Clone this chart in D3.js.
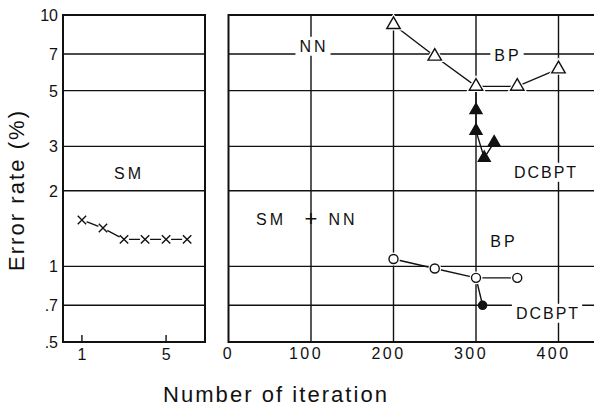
<!DOCTYPE html>
<html lang="en">
<head>
    <meta charset="UTF-8">
    <title>Error rate vs Number of iteration</title>
    <script src="https://d3js.org/d3.v7.min.js"></script>
    <style>
        body {
            margin: 0;
            background-color: white;
        }

        svg {
            display: block;
            font-family: "Liberation Sans", Arial, sans-serif;
        }

        .frame {
            fill: none;
            stroke: #111;
            stroke-width: 2;
        }

        .grid {
            stroke: #111;
            stroke-width: 1.4;
        }

        .tick-label {
            font-size: 16px;
            fill: #111;
        }

        .series {
            fill: none;
            stroke: #111;
            stroke-width: 1.4;
        }

        .note {
            font-size: 16px;
            fill: #111;
        }
    </style>
</head>
<body>
    <svg></svg>

    <script>
        // y axis (log scale, shared by both panels)
        const yTicks = [10, 7, 5, 3, 2, 1, 0.7, 0.5];
        const yTickLabels = ["10", "7", "5", "3", "2", "1", ".7", ".5"];

        // left panel: SM
        const smTicks = [1, 5];
        const smIter = [1, 2, 3, 4, 5, 6];
        const smError = [1.53, 1.42, 1.28, 1.28, 1.28, 1.28];

        // right panel ticks
        const nnTicks = [0, 100, 200, 300, 400];

        // NN, BP (open triangles)
        const nnBpIter = [200, 250, 300, 350, 400];
        const nnBpError = [9.15, 6.85, 5.2, 5.2, 6.1];
        // NN, DCBPT (filled triangles), starts from BP at 300
        const nnDcIter = [300, 300, 310, 322];
        const nnDcError = [4.18, 3.46, 2.7, 3.11];

        // SM + NN, BP (open circles)
        const smnnBpIter = [200, 250, 300, 350];
        const smnnBpError = [1.07, 0.98, 0.9, 0.9];
        // SM + NN, DCBPT (filled circle)
        const smnnDcIter = [308];
        const smnnDcError = [0.7];

        const width = 594, height = 407;

        const svg = d3.select("svg")
            .attr("width", width)
            .attr("height", height);

        svg.append("rect")
            .attr("width", width)
            .attr("height", height)
            .attr("fill", "white");

        const y = d3.scaleLog().domain([0.5, 10]).range([342, 15]);
        const xL = d3.scaleLinear().domain([0.1, 6.85]).range([63, 205]);
        const xR = d3.scaleLinear().domain([0, 450]).range([228.5, 599.75]);

        const gridY = yTicks.filter(d => d !== 10 && d !== 0.5);

        // ---- left panel ----
        const left = svg.append("g");
        left.selectAll(".hgrid")
            .data(gridY)
            .enter().append("line")
            .attr("class", "grid")
            .attr("x1", xL.range()[0]).attr("x2", xL.range()[1])
            .attr("y1", d => y(d)).attr("y2", d => y(d));

        left.append("rect")
            .attr("class", "frame")
            .attr("x", xL.range()[0])
            .attr("y", y(10))
            .attr("width", xL.range()[1] - xL.range()[0])
            .attr("height", y(0.5) - y(10));

        // small inner ticks on the bottom axis
        left.selectAll(".xtick")
            .data(smTicks)
            .enter().append("line")
            .attr("class", "grid")
            .attr("x1", d => xL(d)).attr("x2", d => xL(d))
            .attr("y1", y(0.5)).attr("y2", y(0.5) - 7);

        left.selectAll(".xlabel")
            .data(smTicks)
            .enter().append("text")
            .attr("class", "tick-label")
            .attr("x", d => xL(d))
            .attr("y", 360)
            .attr("text-anchor", "middle")
            .text(d => d);

        // y tick labels
        svg.selectAll(".ylabel")
            .data(yTicks)
            .enter().append("text")
            .attr("class", "tick-label")
            .attr("x", 58)
            .attr("y", d => y(d))
            .attr("dy", "0.38em")
            .attr("text-anchor", "end")
            .text((d, i) => yTickLabels[i]);

        // ---- right panel ----
        const right = svg.append("g");
        right.selectAll(".hgrid")
            .data(gridY)
            .enter().append("line")
            .attr("class", "grid")
            .attr("x1", xR(0)).attr("x2", width)
            .attr("y1", d => y(d)).attr("y2", d => y(d));

        right.selectAll(".vgrid")
            .data(nnTicks.filter(d => d > 0))
            .enter().append("line")
            .attr("class", "grid")
            .attr("x1", d => xR(d)).attr("x2", d => xR(d))
            .attr("y1", y(10)).attr("y2", y(0.5));

        right.append("path")
            .attr("class", "frame")
            .attr("d", `M${width},${y(10)}H${xR(0)}V${y(0.5)}H${width}`);

        right.selectAll(".xlabel")
            .data(nnTicks)
            .enter().append("text")
            .attr("class", "tick-label")
            .attr("x", d => xR(d) + (d === 0 ? 0 : -5))
            .attr("y", 359)
            .attr("text-anchor", "middle")
            .style("letter-spacing", "2.5px")
            .text(d => d);

        // ---- labels inside the plots ----
        function note(x, yy, txt, spacing, bg, size) {
            const t = svg.append("text")
                .attr("class", "note")
                .attr("x", x)
                .attr("y", yy)
                .attr("dy", "0.36em")
                .attr("text-anchor", "middle")
                .style("letter-spacing", spacing + "px")
                .text(txt);
            if (size) t.style("font-size", size + "px");
            if (bg) {
                const b = t.node().getBBox();
                svg.insert("rect", () => t.node())
                    .attr("x", b.x - 4).attr("y", b.y - 1)
                    .attr("width", b.width + 6).attr("height", b.height + 2)
                    .attr("fill", "white");
            }
        }

        note(129, 173, "SM", 3, false);
        note(314, 46, "NN", 3, true);
        note(508, 55, "BP", 3, true);
        note(546, 172, "DCBPT", 2, true);
        note(271, 219, "SM", 3, false);
        note(xR(100), 218, "+", 0, false, 22);
        note(343, 219, "NN", 3, false);
        note(504, 241, "BP", 3, false);
        note(548, 313, "DCBPT", 2, true);

        // ---- data ----
        const lineL = d3.line().x(d => xL(d[0])).y(d => y(d[1]));
        const lineR = d3.line().x(d => xR(d[0])).y(d => y(d[1]));

        const sm = smIter.map((d, i) => [d, smError[i]]);
        const nnBp = nnBpIter.map((d, i) => [d, nnBpError[i]]);
        const nnDc = nnDcIter.map((d, i) => [d, nnDcError[i]]);
        const smnnBp = smnnBpIter.map((d, i) => [d, smnnBpError[i]]);
        const smnnDc = smnnDcIter.map((d, i) => [d, smnnDcError[i]]);

        svg.append("path").attr("class", "series").attr("d", lineL(sm));
        svg.append("path").attr("class", "series").attr("d", lineR(nnBp));
        svg.append("path").attr("class", "series").attr("d", lineR([nnBp[2]].concat(nnDc)));
        svg.append("path").attr("class", "series").attr("d", lineR(smnnBp));
        svg.append("path").attr("class", "series").attr("d", lineR([smnnBp[2]].concat(smnnDc)));

        // white halo first, so the joining lines stop short of each marker
        function markers(data, xs, type, size, filled, halo) {
            svg.selectAll(null)
                .data(data)
                .enter().append("path")
                .attr("transform", d => `translate(${xs(d[0])},${y(d[1])})`)
                .attr("d", d3.symbol().type(halo.type || type).size(halo.size))
                .attr("fill", "white");
            svg.selectAll(null)
                .data(data)
                .enter().append("path")
                .attr("transform", d => `translate(${xs(d[0])},${y(d[1])})`)
                .attr("d", d3.symbol().type(type).size(size))
                .attr("fill", filled ? "#111" : "white")
                .attr("stroke", "#111")
                .attr("stroke-width", 1.4);
        }

        markers(sm, xL, d3.symbolX, 48, false, { type: d3.symbolCircle, size: 80 });
        markers(nnBp, xR, d3.symbolTriangle, 78, false, { size: 170 });
        markers(nnDc, xR, d3.symbolTriangle, 62, true, { size: 62 });
        markers(smnnBp, xR, d3.symbolCircle, 64, false, { size: 130 });
        markers(smnnDc, xR, d3.symbolCircle, 52, true, { size: 52 });

        // ---- axis titles ----
        svg.append("text")
            .attr("x", 163)
            .attr("y", 402)
            .attr("textLength", 224)
            .attr("lengthAdjust", "spacing")
            .style("font-size", "22px")
            .style("fill", "#111")
            .text("Number of iteration");

        svg.append("text")
            .attr("transform", "translate(24,271) rotate(-90)")
            .attr("textLength", 160)
            .attr("lengthAdjust", "spacing")
            .style("font-size", "22px")
            .style("fill", "#111")
            .text("Error rate (%)");
    </script>
</body>
</html>
